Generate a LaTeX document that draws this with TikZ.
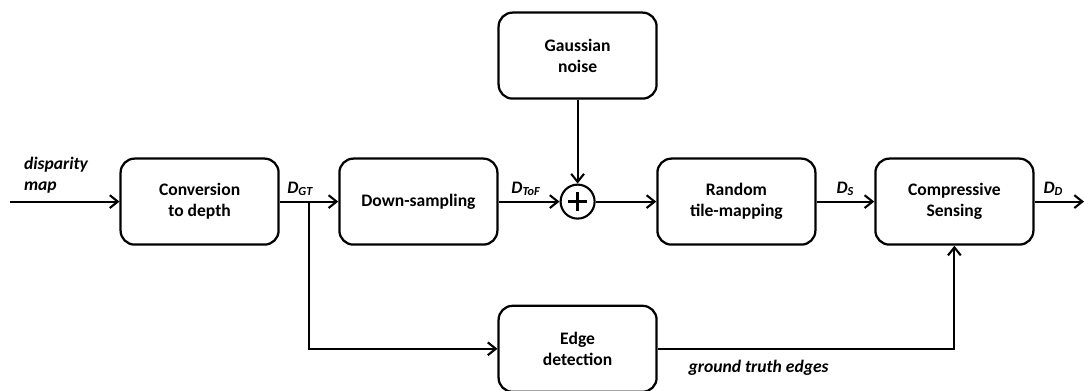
\documentclass[tikz,border=0pt]{standalone}
\usepackage{fontspec}
\setmainfont{Carlito}
\usetikzlibrary{positioning, arrows.meta}

\tikzset{
    block/.style={draw, line width=1.6pt, rounded corners=0.35cm, minimum width=3.95cm, minimum height=2.15cm, align=center, font=\fontsize{12.5}{15}\selectfont\bfseries},
    sumnode/.style={draw, circle, line width=1.5pt, minimum size=0.85cm, inner sep=0pt},
    flow/.style={line width=1.5pt, -{Straight Barb[length=2mm, width=3.2mm, line width=1.5pt]}},
    sig/.style={font=\fontsize{12.5}{15}\selectfont\bfseries\itshape}
}

\begin{document}
\begin{tikzpicture}
    \useasboundingbox (0,0) rectangle (27.1,-9.75);

    \node[block] (conv) at (4.99,-5.04) {Conversion\\to depth};
    \node[block] (down) at (10.46,-5.04) {Down-sampling};
    \node[block] (noise) at (14.44,-1.39) {Gaussian\\noise};
    \node[sumnode] (sum) at (14.44,-5.04) {};
    \draw[line width=1.6pt] ([xshift=-0.23cm]sum.center) -- ([xshift=0.23cm]sum.center)
                            ([yshift=-0.23cm]sum.center) -- ([yshift=0.23cm]sum.center);
    \node[block] (tile) at (18.41,-5.04) {Random\\tile-mapping};
    \node[block] (cs) at (23.86,-5.04) {Compressive\\Sensing};
    \node[block] (edge) at (14.44,-8.72) {Edge\\detection};

    \coordinate (in) at (0.25,-5.04);
    \coordinate (out) at (27.1,-5.04);
    \coordinate (branch) at (7.72,-5.04);

    \draw[flow] (in) -- (conv) node[pos=0.42, above=2pt, sig, align=left] {disparity\\map};
    \draw[flow] (conv) -- (down) node[pos=0.35, above, sig] {D\textsubscript{GT}};
    \draw[flow] (down) -- (sum) node[pos=0.45, above, sig] {D\textsubscript{ToF}};
    \draw[flow] (noise) -- (sum);
    \draw[flow] (sum) -- (tile);
    \draw[flow] (tile) -- (cs) node[midway, above, sig] {D\textsubscript{S}};
    \draw[flow] (cs) -- (out) node[pos=0.38, above, sig] {D\textsubscript{D}};
    \draw[flow] (branch) |- (edge);
    \draw[flow] (edge) -| (cs) node[pos=0.17, below=4pt, sig] {ground truth edges};
\end{tikzpicture}
\end{document}
